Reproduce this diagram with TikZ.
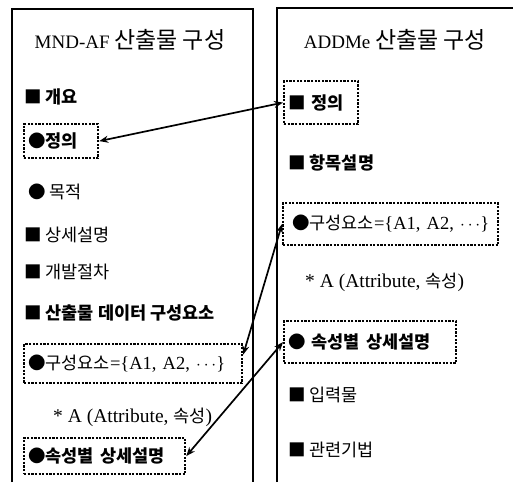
\documentclass[tikz,border=0pt]{standalone}
\usepackage{fontspec}
\setmainfont{Liberation Serif}
\newfontfamily\kr{Noto Sans CJK KR}
\usetikzlibrary{arrows.meta}
\newcommand\KT[1]{{\kr\fontsize{23}{25}\selectfont #1}}
\newcommand\KI[1]{{\kr\fontsize{17.5}{19}\selectfont #1}}
\newcommand\KB[1]{{\kr\bfseries\fontsize{17.5}{19}\selectfont #1}}
\begin{document}
\begin{tikzpicture}[x=1pt,y=-1pt,
  panel/.style={line width=1.3pt},
  ttl/.style={inner sep=0pt,font=\fontsize{19}{21}\selectfont},
  item/.style={anchor=west,inner sep=0pt,font=\fontsize{19.5}{21}\selectfont},
  dotbox/.style={draw,line width=2.2pt,dash pattern=on 2.2pt off 1.4pt,anchor=north west,
     inner xsep=4pt,inner ysep=0pt,align=left,font=\fontsize{18.5}{21}\selectfont},
  link/.style={line width=1.7pt,{Stealth[length=9pt,width=7pt]}-{Stealth[length=9pt,width=7pt]}}
]
\useasboundingbox (0,0) rectangle (513,482);
% panels
\draw[panel] (12,482) -- (12,9) -- (253,9) -- (253,482);
\draw[panel] (277,482) -- (277,8) -- (513,8);
% titles
\node[ttl] (tl) at (130,40) {MND-AF \KT{산출물 구성}};
\node[ttl] (tr) at (395,40) {ADDMe \KT{산출물 구성}};
% left items
\node[item] (l1) at (24,97) {\KB{■ 개요}};
\node[dotbox,minimum width=74pt,minimum height=34pt,text width=66pt] (L1) at (23,123) {\KB{●정의}};
\node[item] (l2) at (28,192) {\KI{● 목적}};
\node[item] (l3) at (24,235) {\KI{■ 상세설명}};
\node[item] (l4) at (24,272) {\KI{■ 개발절차}};
\node[item] (l5) at (24,313) {\KB{■ 산출물 데이터 구성요소}};
\node[dotbox,minimum width=218pt,minimum height=39pt,text width=210pt] (L2) at (23,343) {\mbox{\KI{●구성요소}=\{A1, A2, $\cdots$\}}};
\node[item] (l6) at (53,417) {* A (Attribute, \KI{속성})};
\node[dotbox,minimum width=161pt,minimum height=36pt,text width=153pt] (L3) at (23,437) {\KB{●속성별 상세설명}};
% right items
\node[dotbox,minimum width=74pt,minimum height=43pt,text width=66pt] (R1) at (283,80) {\KB{■ 정의}};
\node[item] (r1) at (288,163) {\KB{■ 항목설명}};
\node[dotbox,minimum width=215pt,minimum height=42pt,text width=207pt] (R2) at (282,202) {\mbox{\hspace{5pt}\KI{●구성요소}=\{A1, A2, $\cdots$\}}};
\node[item] (r2) at (305,282) {* A (Attribute, \KI{속성})};
\node[dotbox,minimum width=172pt,minimum height=42pt,text width=164pt] (R3) at (283,320) {\KB{● 속성별 상세설명}};
\node[item] (r3) at (288,395) {\KI{■ 입력물}};
\node[item] (r4) at (288,450) {\KI{■ 관련기법}};
% links
\draw[link] (L1.east) -- (R1.west);
\draw[link] ([yshift=9pt]L2.east) -- (R2.west);
\draw[link] (L3.east) -- (R3.west);
\end{tikzpicture}
\end{document}
